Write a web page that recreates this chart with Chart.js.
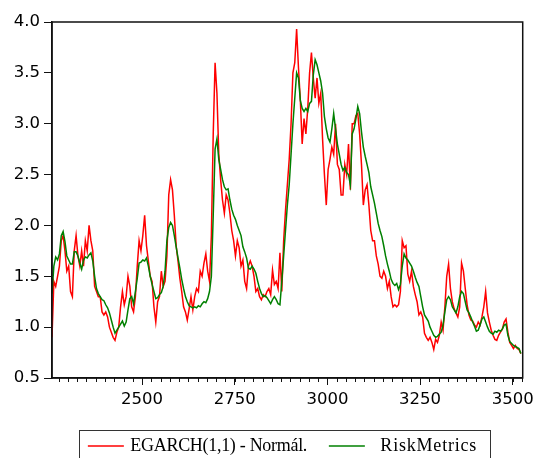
<!DOCTYPE html>
<html><head><meta charset="utf-8">
<script src="https://cdn.jsdelivr.net/npm/chart.js@4.4.0/dist/chart.umd.min.js"></script>
<style>html,body{margin:0;padding:0;background:#fff}#wrap{width:539px;height:458px}</style>
</head><body><div id="wrap"><canvas id="c" width="539" height="458"></canvas></div>
<script>
// observation index of the first value and spacing between values
const xStart = 2257;
const xStep = 5;
const seriesNames = ['EGARCH(1,1) - Normál.', 'RiskMetrics'];
const egarchNormal = [
0.9,1.45,1.4,1.5,1.6,1.85,1.9,1.75,1.55,1.6,
1.35,1.3,1.75,1.9,1.7,1.6,1.75,1.6,1.85,1.75,
2.0,1.85,1.75,1.4,1.35,1.3,1.3,1.15,1.12,1.15,
1.1,1.0,0.95,0.9,0.87,0.95,1.0,1.2,1.35,1.22,
1.3,1.5,1.4,1.2,1.15,1.3,1.6,1.85,1.75,1.9,
2.1,1.8,1.65,1.5,1.45,1.2,1.05,1.25,1.3,1.55,
1.4,1.45,1.7,2.3,2.45,2.35,2.1,1.8,1.65,1.48,
1.35,1.2,1.15,1.07,1.18,1.3,1.17,1.3,1.38,1.35,
1.55,1.5,1.63,1.72,1.55,1.45,1.9,2.9,3.6,3.3,
2.7,2.45,2.25,2.12,2.3,2.25,2.12,1.95,1.85,1.7,
1.85,1.78,1.6,1.66,1.45,1.38,1.6,1.65,1.6,1.5,
1.35,1.38,1.3,1.27,1.32,1.3,1.35,1.38,1.32,1.56,
1.42,1.45,1.38,1.73,1.35,1.85,2.15,2.4,2.65,3.0,
3.5,3.6,3.93,3.55,3.23,2.8,3.05,2.9,3.15,3.5,
3.7,3.45,3.25,3.45,3.2,3.3,2.85,2.5,2.2,2.55,
2.65,2.77,2.7,3.0,2.6,2.55,2.3,2.3,2.6,2.5,
2.8,2.35,3.0,3.0,3.08,3.1,2.9,2.6,2.2,2.35,
2.4,2.2,1.95,1.85,1.85,1.7,1.62,1.5,1.48,1.55,
1.5,1.38,1.45,1.3,1.2,1.22,1.2,1.22,1.35,1.85,
1.78,1.8,1.52,1.45,1.55,1.4,1.32,1.25,1.12,1.15,
1.1,0.94,0.9,0.87,0.9,0.85,0.78,0.88,0.85,0.92,
1.05,0.97,1.2,1.5,1.62,1.38,1.25,1.18,1.14,1.1,
1.2,1.63,1.55,1.38,1.22,1.12,1.07,1.06,1.02,1.0,
1.05,1.02,1.1,1.2,1.35,1.14,1.05,0.97,0.92,0.88,
0.87,0.92,0.95,0.98,1.05,1.08,0.95,0.85,0.82,0.79,
0.82,0.79,0.78,0.74
];
const riskMetrics = [
1.33,1.6,1.69,1.66,1.72,1.9,1.94,1.84,1.7,1.66,
1.62,1.62,1.74,1.74,1.7,1.63,1.57,1.66,1.69,1.68,
1.71,1.73,1.65,1.5,1.38,1.33,1.3,1.27,1.26,1.22,
1.19,1.14,1.07,1.0,0.94,0.97,1.0,1.03,1.06,1.01,
1.05,1.17,1.28,1.3,1.23,1.35,1.48,1.63,1.64,1.66,
1.65,1.68,1.6,1.5,1.42,1.35,1.28,1.29,1.32,1.34,
1.4,1.55,1.85,1.98,2.03,2.0,1.9,1.79,1.68,1.58,
1.47,1.38,1.3,1.25,1.21,1.2,1.19,1.2,1.19,1.21,
1.2,1.23,1.25,1.24,1.28,1.35,1.5,2.1,2.75,2.85,
2.65,2.55,2.45,2.38,2.35,2.36,2.25,2.16,2.1,2.06,
2.0,1.95,1.9,1.79,1.74,1.68,1.58,1.57,1.6,1.57,
1.53,1.45,1.38,1.33,1.3,1.31,1.29,1.26,1.23,1.27,
1.3,1.27,1.23,1.22,1.45,1.7,1.95,2.2,2.4,2.7,
3.0,3.25,3.5,3.45,3.23,3.15,3.12,3.15,3.12,3.2,
3.22,3.48,3.63,3.58,3.5,3.42,3.3,3.07,2.95,2.86,
2.82,2.95,3.1,2.95,2.8,2.7,2.6,2.54,2.57,2.52,
2.5,2.4,2.9,2.95,3.05,3.17,3.1,2.92,2.77,2.68,
2.6,2.52,2.38,2.3,2.22,2.12,2.02,1.95,1.89,1.8,
1.7,1.62,1.55,1.47,1.43,1.41,1.43,1.37,1.42,1.6,
1.72,1.68,1.66,1.63,1.6,1.55,1.49,1.44,1.4,1.3,
1.2,1.12,1.09,1.06,1.0,0.96,0.92,0.9,0.91,0.93,
0.95,1.02,1.15,1.27,1.3,1.27,1.2,1.17,1.14,1.2,
1.3,1.35,1.33,1.25,1.17,1.14,1.1,1.05,1.01,0.96,
0.97,1.02,1.08,1.1,1.05,1.0,0.96,0.94,0.93,0.96,
0.95,0.97,0.96,0.98,1.02,1.03,0.92,0.86,0.84,0.82,
0.81,0.8,0.79,0.74
];
const xTickValues = [2500, 2750, 3000, 3250, 3500];
const yTickValues = [0.5, 1.0, 1.5, 2.0, 2.5, 3.0, 3.5, 4.0];
const xMin = 2257, xMax = 3527, minorStep = 25;

const toPoints = arr => arr.map((v, i) => ({x: xStart + i * xStep, y: v}));
const RED = '#ff0000', GREEN = '#008000', AXIS = '#111111';
const tickFont = {family: 'DejaVu Sans', size: 16.5};

const framePlugin = {
  id: 'frameAndLegend',
  afterDraw(chart) {
    const {ctx, chartArea: a} = chart;
    const xs = chart.scales.x;
    ctx.save();
    // frame
    ctx.strokeStyle = AXIS; ctx.lineWidth = 1.5;
    ctx.strokeRect(a.left, a.top, a.right - a.left, a.bottom - a.top);
    // minor ticks on x axis
    ctx.lineWidth = 1;
    ctx.beginPath();
    for (let v = Math.ceil(xMin / minorStep) * minorStep; v <= xMax; v += minorStep) {
      const px = Math.round(xs.getPixelForValue(v)) + 0.5;
      ctx.moveTo(px, a.bottom); ctx.lineTo(px, a.bottom + 4);
    }
    ctx.stroke();
    // legend box
    const cx = (a.left + a.right) / 2;
    const ly = 446;
    ctx.strokeStyle = '#333'; ctx.lineWidth = 1;
    ctx.strokeRect(Math.round(cx - 208) + 0.5, 430.5, 411, 40);
    ctx.font = '18px "Liberation Serif"';
    ctx.textBaseline = 'middle';
    ctx.fillStyle = '#000';
    const items = [
      {name: seriesNames[0], color: RED, line: cx - 199.5, text: cx - 157, spacing: '-0.3px'},
      {name: seriesNames[1], color: GREEN, line: cx + 41.5, text: cx + 93, spacing: '0.8px'}
    ];
    items.forEach(it => {
      ctx.strokeStyle = it.color; ctx.lineWidth = 1.5;
      ctx.beginPath(); ctx.moveTo(it.line, ly); ctx.lineTo(it.line + 36, ly); ctx.stroke();
      if ('letterSpacing' in ctx) ctx.letterSpacing = it.spacing;
      ctx.fillText(it.name, it.text, ly);
    });
    if ('letterSpacing' in ctx) ctx.letterSpacing = '0px';
    ctx.restore();
  }
};

new Chart(document.getElementById('c'), {
  type: 'line',
  data: {
    datasets: [
      {label: seriesNames[0], data: toPoints(egarchNormal), borderColor: RED, borderWidth: 1.5, pointRadius: 0, tension: 0, order: 2},
      {label: seriesNames[1], data: toPoints(riskMetrics), borderColor: GREEN, borderWidth: 1.5, pointRadius: 0, tension: 0, order: 1}
    ]
  },
  options: {
    responsive: false, animation: false, devicePixelRatio: 1,
    layout: {padding: {top: 22, right: 14, left: 0, bottom: 0}},
    plugins: {legend: {display: false}, tooltip: {enabled: false}},
    scales: {
      x: {
        type: 'linear', min: xMin, max: xMax,
        afterBuildTicks: s => { s.ticks = xTickValues.map(v => ({value: v})); },
        afterFit: s => { s.height = 80; },
        ticks: {font: tickFont, color: '#000', padding: 5, maxRotation: 0, autoSkip: false, callback: v => String(v)},
        grid: {drawOnChartArea: false, drawTicks: true, tickLength: 7, color: AXIS, tickWidth: 1},
        border: {display: true, color: AXIS, width: 1.5}
      },
      y: {
        min: 0.5, max: 4.0,
        afterBuildTicks: s => { s.ticks = yTickValues.map(v => ({value: v})); },
        afterFit: s => { s.width = 52; },
        ticks: {font: tickFont, color: '#000', padding: 4, callback: v => v.toFixed(1)},
        grid: {drawOnChartArea: false, drawTicks: true, tickLength: 8, color: AXIS, tickWidth: 1},
        border: {display: true, color: AXIS, width: 1.5}
      }
    }
  },
  plugins: [framePlugin]
});
</script></body></html>
